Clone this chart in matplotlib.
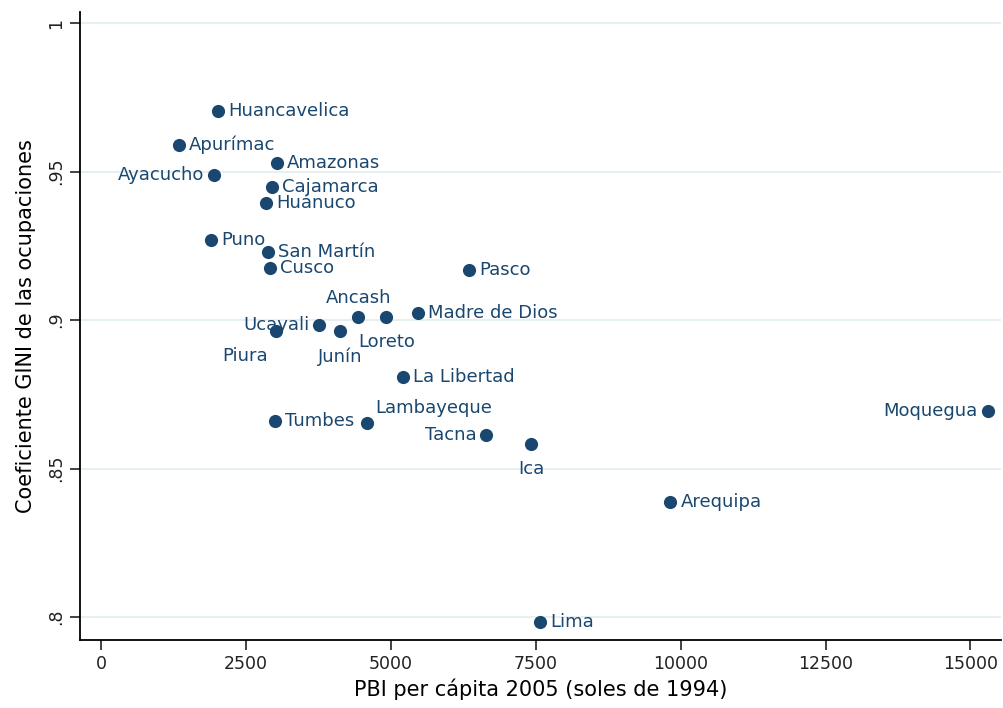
import matplotlib.pyplot as plt
import numpy as np

plt.rcParams['font.family'] = ['DejaVu Sans']

regiones = ["Huancavelica", "Apurímac", "Amazonas", "Ayacucho", "Cajamarca", "Huánuco",
            "Puno", "San Martín", "Cusco", "Pasco", "Ancash", "Loreto", "Madre de Dios",
            "Ucayali", "Junín", "Piura", "La Libertad", "Tumbes", "Lambayeque", "Tacna",
            "Ica", "Arequipa", "Moquegua", "Lima"]
pbi = [2020, 1347, 3039, 1951, 2952, 2849, 1899, 2883, 2918, 6354, 4437, 4920, 5473,
       3764, 4126, 3021, 5214, 3004, 4592, 6647, 7424, 9824, 15297, 7579]
gini = [.9704, .9589, .9529, .9488, .9448, .9394, .9269, .9229, .9175, .9168, .9010, .9010,
        .9024, .8983, .8963, .8963, .8808, .8660, .8653, .8613, .8582, .8387, .8694, .7983]
# clock position of each label (stata style)
pos = [3, 3, 3, 9, 3, 3, 3, 3, 3, 3, 12, 6, 3, 9, 6, 7, 3, 3, 1, 9, 6, 3, 9, 3]

xticks = [0, 2500, 5000, 7500, 10000, 12500, 15000]
yticks = [.8, .85, .9, .95, 1]
ylabels = [".8", ".85", ".9", ".95", "1"]

navy = "#1a476f"

fig = plt.figure(figsize=(10.04, 7.08), dpi=100)
ax = fig.add_axes([0.0797, 0.096, 0.917, 0.887])

ax.scatter(pbi, gini, s=90, color=navy, zorder=3, linewidths=0)

offs = {3: ((10, 0), "left", "center"), 9: ((-10, 0), "right", "center"),
        12: ((0, 10), "center", "bottom"), 6: ((0, -16), "center", "top"),
        7: ((-8, -16), "right", "top"), 1: ((8, 6), "left", "bottom")}
for nom, x, y, p in zip(regiones, pbi, gini, pos):
    (dx, dy), ha, va = offs[p]
    ax.annotate(nom, (x, y), xytext=(dx, dy), textcoords="offset pixels",
                ha=ha, va=va, fontsize=13, color=navy)

ax.set_xlim(-363, 15521)
ax.set_ylim(0.7923, 1.0037)
ax.set_xticks(xticks)
ax.set_xticklabels([str(t) for t in xticks])
ax.set_yticks(yticks)
ax.set_yticklabels(ylabels, rotation=90, va="center")
ax.tick_params(labelsize=12.5, length=7, width=1.2, colors="#222222")
ax.grid(axis="y", color="#e2ecef", lw=1.2)
ax.set_axisbelow(True)
for s in ["top", "right"]:
    ax.spines[s].set_visible(False)
for s in ["left", "bottom"]:
    ax.spines[s].set_linewidth(1.3)

ax.set_xlabel("PBI per cápita 2005 (soles de 1994)", fontsize=15, labelpad=4)
ax.set_ylabel("Coeficiente GINI de las ocupaciones", fontsize=15, labelpad=8)

plt.savefig("out.png", dpi=100)
